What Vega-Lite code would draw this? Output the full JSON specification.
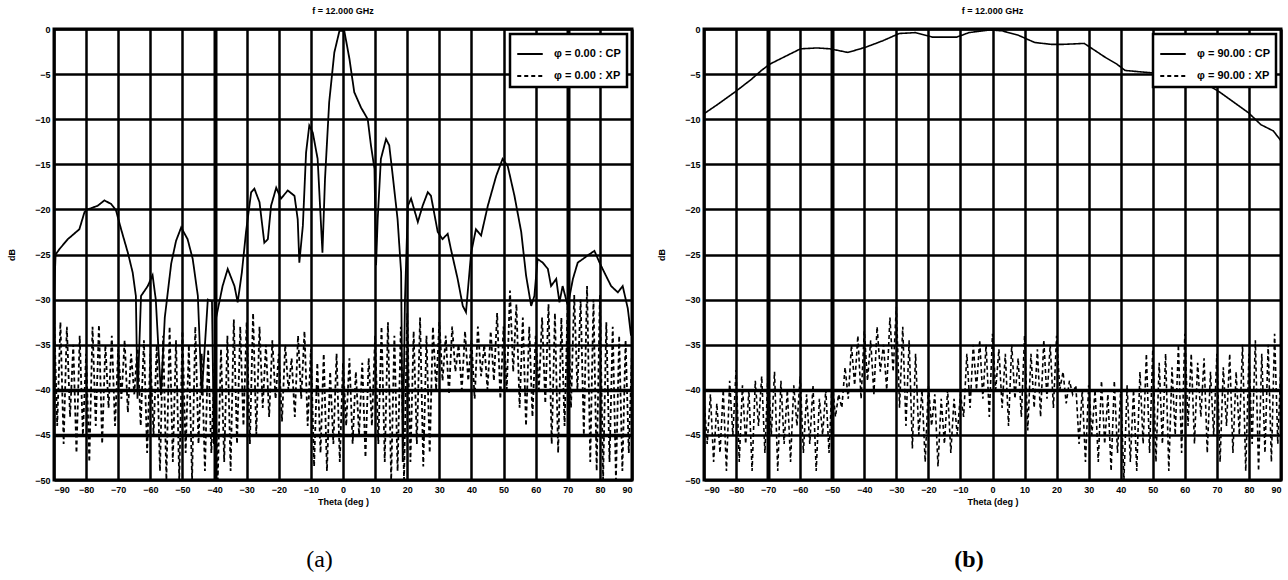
{
  "$schema": "https://vega.github.io/schema/vega-lite/v6.json",
  "background": "white",
  "padding": 5,
  "spacing": 21,
  "datasets": {
    "a": [
      {"s":"CP","t":-90,"v":-29.5},{"s":"CP","t":-89.5,"v":-25},{"s":"CP","t":-88.3,"v":-24.4},{"s":"CP","t":-85.7,"v":-23.3},{"s":"CP","t":-82.1,"v":-22.2},{"s":"CP","t":-80.5,"v":-20.3},{"s":"CP","t":-79.5,"v":-20.0},{"s":"CP","t":-76.4,"v":-19.6},{"s":"CP","t":-74.3,"v":-19.0},{"s":"CP","t":-72.2,"v":-19.4},{"s":"CP","t":-70.7,"v":-20.1},{"s":"CP","t":-69.1,"v":-22.2},{"s":"CP","t":-67.0,"v":-24.8},{"s":"CP","t":-65.5,"v":-27.0},{"s":"CP","t":-64.5,"v":-29.6},{"s":"CP","t":-64,"v":-41},{"s":"CP","t":-62.9,"v":-29.6},{"s":"CP","t":-60.8,"v":-28.5},{"s":"CP","t":-59.3,"v":-27.3},{"s":"CP","t":-58.3,"v":-30},{"s":"CP","t":-56.7,"v":-40.6},{"s":"CP","t":-55.5,"v":-32},{"s":"CP","t":-53.5,"v":-26},{"s":"CP","t":-52,"v":-23.5},{"s":"CP","t":-50.4,"v":-22.0},{"s":"CP","t":-48.4,"v":-23.3},{"s":"CP","t":-46.8,"v":-25.5},{"s":"CP","t":-45.2,"v":-29.6},{"s":"CP","t":-44,"v":-40.6},{"s":"CP","t":-42.1,"v":-30},{"s":"CP","t":-40.8,"v":-30.2},{"s":"CP","t":-40.2,"v":-46},{"s":"CP","t":-39.5,"v":-32},{"s":"CP","t":-37.5,"v":-28.5},{"s":"CP","t":-35.9,"v":-26.6},{"s":"CP","t":-33.8,"v":-28.5},{"s":"CP","t":-32.8,"v":-30.3},{"s":"CP","t":-31.5,"v":-27},{"s":"CP","t":-30.2,"v":-22.5},{"s":"CP","t":-28.6,"v":-18.1},{"s":"CP","t":-27.6,"v":-17.7},{"s":"CP","t":-26.0,"v":-19.2},{"s":"CP","t":-24.5,"v":-23.7},{"s":"CP","t":-23.4,"v":-23.3},{"s":"CP","t":-22.4,"v":-19.6},{"s":"CP","t":-20.8,"v":-17.6},{"s":"CP","t":-19.3,"v":-18.8},{"s":"CP","t":-17.2,"v":-17.9},{"s":"CP","t":-15.1,"v":-18.5},{"s":"CP","t":-14.1,"v":-21.1},{"s":"CP","t":-13.6,"v":-25.9},{"s":"CP","t":-12.5,"v":-21.8},{"s":"CP","t":-11.5,"v":-13.7},{"s":"CP","t":-10.5,"v":-10.7},{"s":"CP","t":-9.4,"v":-11.5},{"s":"CP","t":-7.9,"v":-14.4},{"s":"CP","t":-6.4,"v":-24.8},{"s":"CP","t":-5.6,"v":-16.6},{"s":"CP","t":-4.3,"v":-8.1},{"s":"CP","t":-2.7,"v":-2.6},{"s":"CP","t":-1.1,"v":-0.2},{"s":"CP","t":0.4,"v":-0.2},{"s":"CP","t":2.0,"v":-3.3},{"s":"CP","t":3.5,"v":-7.0},{"s":"CP","t":5.6,"v":-8.7},{"s":"CP","t":7.7,"v":-10.0},{"s":"CP","t":8.7,"v":-12.9},{"s":"CP","t":9.8,"v":-15.5},{"s":"CP","t":10.3,"v":-26.2},{"s":"CP","t":10.8,"v":-21.1},{"s":"CP","t":11.8,"v":-14.4},{"s":"CP","t":13.4,"v":-12.2},{"s":"CP","t":14.4,"v":-12.9},{"s":"CP","t":15.5,"v":-16.3},{"s":"CP","t":17.0,"v":-21.1},{"s":"CP","t":18.1,"v":-27.0},{"s":"CP","t":18.6,"v":-48},{"s":"CP","t":19.3,"v":-30},{"s":"CP","t":20.2,"v":-19.6},{"s":"CP","t":21.2,"v":-18.8},{"s":"CP","t":23.3,"v":-21.4},{"s":"CP","t":24.8,"v":-19.6},{"s":"CP","t":26.4,"v":-18.1},{"s":"CP","t":27.4,"v":-18.5},{"s":"CP","t":29.5,"v":-22.5},{"s":"CP","t":31.0,"v":-23.3},{"s":"CP","t":32.6,"v":-22.7},{"s":"CP","t":33.6,"v":-24.4},{"s":"CP","t":35.7,"v":-27.7},{"s":"CP","t":37.3,"v":-30.7},{"s":"CP","t":38.3,"v":-31.4},{"s":"CP","t":39.9,"v":-24.8},{"s":"CP","t":41.4,"v":-22.2},{"s":"CP","t":43.0,"v":-22.9},{"s":"CP","t":45.1,"v":-19.6},{"s":"CP","t":47.7,"v":-16.3},{"s":"CP","t":49.7,"v":-14.4},{"s":"CP","t":51.3,"v":-15.2},{"s":"CP","t":53.4,"v":-18.5},{"s":"CP","t":55.5,"v":-22.5},{"s":"CP","t":57.0,"v":-27.3},{"s":"CP","t":58.6,"v":-30.7},{"s":"CP","t":59.6,"v":-29.6},{"s":"CP","t":60.6,"v":-25.5},{"s":"CP","t":62.2,"v":-25.9},{"s":"CP","t":63.8,"v":-26.6},{"s":"CP","t":64.8,"v":-28.5},{"s":"CP","t":66.4,"v":-27.7},{"s":"CP","t":67.4,"v":-30.3},{"s":"CP","t":68.4,"v":-28.5},{"s":"CP","t":70.0,"v":-30.7},{"s":"CP","t":71.6,"v":-27.7},{"s":"CP","t":73.1,"v":-25.9},{"s":"CP","t":74.7,"v":-25.5},{"s":"CP","t":76.2,"v":-25.1},{"s":"CP","t":78.3,"v":-24.6},{"s":"CP","t":79.9,"v":-25.9},{"s":"CP","t":81.4,"v":-27.0},{"s":"CP","t":83.5,"v":-28.5},{"s":"CP","t":85.6,"v":-29.2},{"s":"CP","t":87.1,"v":-28.5},{"s":"CP","t":88.7,"v":-31.0},{"s":"CP","t":89.7,"v":-34.0},
      {"s":"XP","t":-90,"v":-31.5},{"s":"XP","t":-89,"v":-44},{"s":"XP","t":-88,"v":-32.5},{"s":"XP","t":-87,"v":-46},{"s":"XP","t":-86,"v":-33},{"s":"XP","t":-85,"v":-43},{"s":"XP","t":-84,"v":-35},{"s":"XP","t":-83,"v":-47},{"s":"XP","t":-82,"v":-34},{"s":"XP","t":-81,"v":-45},{"s":"XP","t":-80,"v":-36},{"s":"XP","t":-79,"v":-48},{"s":"XP","t":-78,"v":-33},{"s":"XP","t":-77,"v":-44},{"s":"XP","t":-76,"v":-32.8},{"s":"XP","t":-75,"v":-46},{"s":"XP","t":-74,"v":-35},{"s":"XP","t":-73,"v":-42},{"s":"XP","t":-72,"v":-34},{"s":"XP","t":-71,"v":-44},{"s":"XP","t":-70,"v":-35.5},{"s":"XP","t":-69,"v":-41},{"s":"XP","t":-68,"v":-34.5},{"s":"XP","t":-67,"v":-42.5},{"s":"XP","t":-66,"v":-36},{"s":"XP","t":-65,"v":-40.5},{"s":"XP","t":-64,"v":-35},{"s":"XP","t":-63,"v":-44},{"s":"XP","t":-62,"v":-34.5},{"s":"XP","t":-61,"v":-47},{"s":"XP","t":-60,"v":-36},{"s":"XP","t":-59,"v":-45},{"s":"XP","t":-58,"v":-35},{"s":"XP","t":-57,"v":-49},{"s":"XP","t":-56,"v":-34},{"s":"XP","t":-55,"v":-50},{"s":"XP","t":-54,"v":-33},{"s":"XP","t":-53,"v":-48},{"s":"XP","t":-52,"v":-34.5},{"s":"XP","t":-51,"v":-50},{"s":"XP","t":-50,"v":-33.5},{"s":"XP","t":-49,"v":-47},{"s":"XP","t":-48,"v":-35},{"s":"XP","t":-47,"v":-50},{"s":"XP","t":-46,"v":-33},{"s":"XP","t":-45,"v":-46},{"s":"XP","t":-44,"v":-36},{"s":"XP","t":-43,"v":-49},{"s":"XP","t":-42,"v":-35.5},{"s":"XP","t":-41,"v":-47},{"s":"XP","t":-40,"v":-37},{"s":"XP","t":-39,"v":-50},{"s":"XP","t":-38,"v":-35.5},{"s":"XP","t":-37,"v":-48},{"s":"XP","t":-36,"v":-34},{"s":"XP","t":-35,"v":-49},{"s":"XP","t":-34,"v":-32.2},{"s":"XP","t":-33,"v":-46},{"s":"XP","t":-32,"v":-33},{"s":"XP","t":-31,"v":-44},{"s":"XP","t":-30,"v":-32.5},{"s":"XP","t":-29,"v":-46},{"s":"XP","t":-28,"v":-31.5},{"s":"XP","t":-27,"v":-45},{"s":"XP","t":-26,"v":-33},{"s":"XP","t":-25,"v":-42},{"s":"XP","t":-24,"v":-35},{"s":"XP","t":-23,"v":-43},{"s":"XP","t":-22,"v":-34.5},{"s":"XP","t":-21,"v":-41},{"s":"XP","t":-20,"v":-36},{"s":"XP","t":-19,"v":-43.5},{"s":"XP","t":-18,"v":-35},{"s":"XP","t":-17,"v":-40},{"s":"XP","t":-16,"v":-36.5},{"s":"XP","t":-15,"v":-43},{"s":"XP","t":-14,"v":-34},{"s":"XP","t":-13,"v":-41},{"s":"XP","t":-12,"v":-33.5},{"s":"XP","t":-11,"v":-44},{"s":"XP","t":-10,"v":-35.5},{"s":"XP","t":-9,"v":-48.5},{"s":"XP","t":-8,"v":-37},{"s":"XP","t":-7,"v":-47},{"s":"XP","t":-6,"v":-36},{"s":"XP","t":-5,"v":-49},{"s":"XP","t":-4,"v":-38},{"s":"XP","t":-3,"v":-46},{"s":"XP","t":-2,"v":-36},{"s":"XP","t":-1,"v":-48},{"s":"XP","t":0,"v":-37},{"s":"XP","t":1,"v":-44},{"s":"XP","t":2,"v":-36.5},{"s":"XP","t":3,"v":-46},{"s":"XP","t":4,"v":-38},{"s":"XP","t":5,"v":-45},{"s":"XP","t":6,"v":-37},{"s":"XP","t":7,"v":-47.5},{"s":"XP","t":8,"v":-36.5},{"s":"XP","t":9,"v":-44},{"s":"XP","t":10,"v":-34},{"s":"XP","t":11,"v":-46},{"s":"XP","t":12,"v":-33},{"s":"XP","t":13,"v":-48},{"s":"XP","t":14,"v":-32.5},{"s":"XP","t":15,"v":-50},{"s":"XP","t":16,"v":-34},{"s":"XP","t":17,"v":-49},{"s":"XP","t":18,"v":-33},{"s":"XP","t":19,"v":-50},{"s":"XP","t":20,"v":-31.5},{"s":"XP","t":21,"v":-48},{"s":"XP","t":22,"v":-33.5},{"s":"XP","t":23,"v":-46},{"s":"XP","t":24,"v":-32},{"s":"XP","t":25,"v":-48.5},{"s":"XP","t":26,"v":-34},{"s":"XP","t":27,"v":-47},{"s":"XP","t":28,"v":-33},{"s":"XP","t":29,"v":-40},{"s":"XP","t":30,"v":-32.5},{"s":"XP","t":31,"v":-39},{"s":"XP","t":32,"v":-34},{"s":"XP","t":33,"v":-40.5},{"s":"XP","t":34,"v":-33},{"s":"XP","t":35,"v":-38},{"s":"XP","t":36,"v":-35},{"s":"XP","t":37,"v":-40},{"s":"XP","t":38,"v":-33.5},{"s":"XP","t":39,"v":-39},{"s":"XP","t":40,"v":-34.5},{"s":"XP","t":41,"v":-41},{"s":"XP","t":42,"v":-33},{"s":"XP","t":43,"v":-38.5},{"s":"XP","t":44,"v":-35},{"s":"XP","t":45,"v":-40},{"s":"XP","t":46,"v":-33.5},{"s":"XP","t":47,"v":-39},{"s":"XP","t":48,"v":-31.5},{"s":"XP","t":49,"v":-41},{"s":"XP","t":50,"v":-33},{"s":"XP","t":51,"v":-40},{"s":"XP","t":52,"v":-29},{"s":"XP","t":53,"v":-38},{"s":"XP","t":54,"v":-30.5},{"s":"XP","t":55,"v":-42},{"s":"XP","t":56,"v":-32},{"s":"XP","t":57,"v":-44},{"s":"XP","t":58,"v":-33},{"s":"XP","t":59,"v":-43},{"s":"XP","t":60,"v":-34},{"s":"XP","t":61,"v":-40},{"s":"XP","t":62,"v":-32},{"s":"XP","t":63,"v":-41.5},{"s":"XP","t":64,"v":-30.5},{"s":"XP","t":65,"v":-46},{"s":"XP","t":66,"v":-31.5},{"s":"XP","t":67,"v":-47},{"s":"XP","t":68,"v":-32},{"s":"XP","t":69,"v":-44},{"s":"XP","t":70,"v":-30},{"s":"XP","t":71,"v":-42},{"s":"XP","t":72,"v":-29.5},{"s":"XP","t":73,"v":-40},{"s":"XP","t":74,"v":-30},{"s":"XP","t":75,"v":-45},{"s":"XP","t":76,"v":-28.5},{"s":"XP","t":77,"v":-48},{"s":"XP","t":78,"v":-30},{"s":"XP","t":79,"v":-49},{"s":"XP","t":80,"v":-29.5},{"s":"XP","t":81,"v":-50},{"s":"XP","t":82,"v":-32.5},{"s":"XP","t":83,"v":-48},{"s":"XP","t":84,"v":-33},{"s":"XP","t":85,"v":-50},{"s":"XP","t":86,"v":-34},{"s":"XP","t":87,"v":-49},{"s":"XP","t":88,"v":-34.5},{"s":"XP","t":89,"v":-47},{"s":"XP","t":90,"v":-35.5}
    ],
    "b": [
      {"s":"CP","t":-90,"v":-9.4},{"s":"CP","t":-85.5,"v":-8.3},{"s":"CP","t":-80.4,"v":-7.0},{"s":"CP","t":-75.3,"v":-5.6},{"s":"CP","t":-72.1,"v":-4.6},{"s":"CP","t":-69.5,"v":-3.9},{"s":"CP","t":-65,"v":-3.1},{"s":"CP","t":-59.9,"v":-2.2},{"s":"CP","t":-54.7,"v":-2.1},{"s":"CP","t":-50.6,"v":-2.2},{"s":"CP","t":-45.1,"v":-2.6},{"s":"CP","t":-39.4,"v":-2.0},{"s":"CP","t":-34.2,"v":-1.3},{"s":"CP","t":-29.1,"v":-0.5},{"s":"CP","t":-24,"v":-0.4},{"s":"CP","t":-18.8,"v":-0.9},{"s":"CP","t":-11.2,"v":-0.9},{"s":"CP","t":-7.3,"v":-0.4},{"s":"CP","t":-0.9,"v":-0.1},{"s":"CP","t":3.0,"v":-0.2},{"s":"CP","t":8.1,"v":-0.7},{"s":"CP","t":13.2,"v":-1.5},{"s":"CP","t":18.3,"v":-1.7},{"s":"CP","t":22.2,"v":-1.7},{"s":"CP","t":28.6,"v":-1.6},{"s":"CP","t":31.2,"v":-2.2},{"s":"CP","t":35,"v":-3.1},{"s":"CP","t":38.8,"v":-3.9},{"s":"CP","t":41.4,"v":-4.6},{"s":"CP","t":47.8,"v":-4.8},{"s":"CP","t":54.2,"v":-5.0},{"s":"CP","t":60.6,"v":-5.4},{"s":"CP","t":65.8,"v":-5.9},{"s":"CP","t":70.9,"v":-7.0},{"s":"CP","t":76,"v":-8.3},{"s":"CP","t":79.9,"v":-9.3},{"s":"CP","t":83.7,"v":-10.6},{"s":"CP","t":87.6,"v":-11.3},{"s":"CP","t":90,"v":-12.4},
      {"s":"XP","t":-90,"v":-41},{"s":"XP","t":-89,"v":-46},{"s":"XP","t":-88,"v":-40.5},{"s":"XP","t":-87,"v":-48},{"s":"XP","t":-86,"v":-41.5},{"s":"XP","t":-85,"v":-47},{"s":"XP","t":-84,"v":-40},{"s":"XP","t":-83,"v":-49},{"s":"XP","t":-82,"v":-39},{"s":"XP","t":-81,"v":-45},{"s":"XP","t":-80,"v":-37.8},{"s":"XP","t":-79,"v":-48},{"s":"XP","t":-78,"v":-39.5},{"s":"XP","t":-77,"v":-46},{"s":"XP","t":-76,"v":-40},{"s":"XP","t":-75,"v":-49},{"s":"XP","t":-74,"v":-39},{"s":"XP","t":-73,"v":-44},{"s":"XP","t":-72,"v":-38.5},{"s":"XP","t":-71,"v":-47},{"s":"XP","t":-70,"v":-37.7},{"s":"XP","t":-69,"v":-45},{"s":"XP","t":-68,"v":-38},{"s":"XP","t":-67,"v":-49},{"s":"XP","t":-66,"v":-39},{"s":"XP","t":-65,"v":-46},{"s":"XP","t":-64,"v":-40},{"s":"XP","t":-63,"v":-48},{"s":"XP","t":-62,"v":-39.5},{"s":"XP","t":-61,"v":-44},{"s":"XP","t":-60,"v":-38.5},{"s":"XP","t":-59,"v":-47},{"s":"XP","t":-58,"v":-40.5},{"s":"XP","t":-57,"v":-46},{"s":"XP","t":-56,"v":-39.5},{"s":"XP","t":-55,"v":-49},{"s":"XP","t":-54,"v":-41},{"s":"XP","t":-53,"v":-45},{"s":"XP","t":-52,"v":-40},{"s":"XP","t":-51,"v":-47},{"s":"XP","t":-50,"v":-39},{"s":"XP","t":-49,"v":-43},{"s":"XP","t":-48,"v":-40.5},{"s":"XP","t":-47,"v":-42},{"s":"XP","t":-46,"v":-37.5},{"s":"XP","t":-45,"v":-41},{"s":"XP","t":-44,"v":-35},{"s":"XP","t":-43,"v":-39.5},{"s":"XP","t":-42,"v":-34},{"s":"XP","t":-41,"v":-41},{"s":"XP","t":-40,"v":-33.5},{"s":"XP","t":-39,"v":-39},{"s":"XP","t":-38,"v":-34.5},{"s":"XP","t":-37,"v":-40.5},{"s":"XP","t":-36,"v":-33},{"s":"XP","t":-35,"v":-38},{"s":"XP","t":-34,"v":-35},{"s":"XP","t":-33,"v":-40},{"s":"XP","t":-32,"v":-32},{"s":"XP","t":-31,"v":-38},{"s":"XP","t":-30,"v":-30.8},{"s":"XP","t":-29,"v":-42},{"s":"XP","t":-28,"v":-33},{"s":"XP","t":-27,"v":-44},{"s":"XP","t":-26,"v":-34.5},{"s":"XP","t":-25,"v":-46.5},{"s":"XP","t":-24,"v":-36},{"s":"XP","t":-23,"v":-45},{"s":"XP","t":-22,"v":-40},{"s":"XP","t":-21,"v":-48},{"s":"XP","t":-20,"v":-39.5},{"s":"XP","t":-19,"v":-44},{"s":"XP","t":-18,"v":-40.5},{"s":"XP","t":-17,"v":-48.5},{"s":"XP","t":-16,"v":-41},{"s":"XP","t":-15,"v":-46},{"s":"XP","t":-14,"v":-40},{"s":"XP","t":-13,"v":-47},{"s":"XP","t":-12,"v":-41},{"s":"XP","t":-11,"v":-45},{"s":"XP","t":-10,"v":-40.5},{"s":"XP","t":-9,"v":-43},{"s":"XP","t":-8,"v":-36},{"s":"XP","t":-7,"v":-42},{"s":"XP","t":-6,"v":-35},{"s":"XP","t":-5,"v":-40},{"s":"XP","t":-4,"v":-34.5},{"s":"XP","t":-3,"v":-41},{"s":"XP","t":-2,"v":-35},{"s":"XP","t":-1,"v":-43},{"s":"XP","t":0,"v":-33.8},{"s":"XP","t":1,"v":-40},{"s":"XP","t":2,"v":-35.5},{"s":"XP","t":3,"v":-42},{"s":"XP","t":4,"v":-36},{"s":"XP","t":5,"v":-44},{"s":"XP","t":6,"v":-35},{"s":"XP","t":7,"v":-41},{"s":"XP","t":8,"v":-36.5},{"s":"XP","t":9,"v":-43},{"s":"XP","t":10,"v":-34},{"s":"XP","t":11,"v":-44.5},{"s":"XP","t":12,"v":-36},{"s":"XP","t":13,"v":-42},{"s":"XP","t":14,"v":-35.5},{"s":"XP","t":15,"v":-43},{"s":"XP","t":16,"v":-34.5},{"s":"XP","t":17,"v":-41},{"s":"XP","t":18,"v":-35},{"s":"XP","t":19,"v":-42},{"s":"XP","t":20,"v":-34},{"s":"XP","t":21,"v":-40},{"s":"XP","t":22,"v":-38},{"s":"XP","t":23,"v":-41.5},{"s":"XP","t":24,"v":-39},{"s":"XP","t":25,"v":-40.5},{"s":"XP","t":26,"v":-39.5},{"s":"XP","t":27,"v":-46},{"s":"XP","t":28,"v":-40},{"s":"XP","t":29,"v":-48},{"s":"XP","t":30,"v":-39.5},{"s":"XP","t":31,"v":-45},{"s":"XP","t":32,"v":-40},{"s":"XP","t":33,"v":-48},{"s":"XP","t":34,"v":-39},{"s":"XP","t":35,"v":-46},{"s":"XP","t":36,"v":-40.5},{"s":"XP","t":37,"v":-49},{"s":"XP","t":38,"v":-39},{"s":"XP","t":39,"v":-47},{"s":"XP","t":40,"v":-40},{"s":"XP","t":41,"v":-50},{"s":"XP","t":42,"v":-39.5},{"s":"XP","t":43,"v":-48},{"s":"XP","t":44,"v":-40},{"s":"XP","t":45,"v":-49},{"s":"XP","t":46,"v":-38},{"s":"XP","t":47,"v":-46},{"s":"XP","t":48,"v":-36},{"s":"XP","t":49,"v":-47},{"s":"XP","t":50,"v":-35.5},{"s":"XP","t":51,"v":-48},{"s":"XP","t":52,"v":-37},{"s":"XP","t":53,"v":-46},{"s":"XP","t":54,"v":-36},{"s":"XP","t":55,"v":-49},{"s":"XP","t":56,"v":-37.5},{"s":"XP","t":57,"v":-45},{"s":"XP","t":58,"v":-35},{"s":"XP","t":59,"v":-47},{"s":"XP","t":60,"v":-33.8},{"s":"XP","t":61,"v":-44},{"s":"XP","t":62,"v":-36},{"s":"XP","t":63,"v":-46},{"s":"XP","t":64,"v":-37},{"s":"XP","t":65,"v":-43},{"s":"XP","t":66,"v":-36.5},{"s":"XP","t":67,"v":-47},{"s":"XP","t":68,"v":-38},{"s":"XP","t":69,"v":-45},{"s":"XP","t":70,"v":-36},{"s":"XP","t":71,"v":-48},{"s":"XP","t":72,"v":-37.5},{"s":"XP","t":73,"v":-44},{"s":"XP","t":74,"v":-36},{"s":"XP","t":75,"v":-47},{"s":"XP","t":76,"v":-38},{"s":"XP","t":77,"v":-45},{"s":"XP","t":78,"v":-35},{"s":"XP","t":79,"v":-49},{"s":"XP","t":80,"v":-36},{"s":"XP","t":81,"v":-46},{"s":"XP","t":82,"v":-34.5},{"s":"XP","t":83,"v":-49},{"s":"XP","t":84,"v":-36},{"s":"XP","t":85,"v":-47},{"s":"XP","t":86,"v":-35},{"s":"XP","t":87,"v":-48},{"s":"XP","t":88,"v":-33.8},{"s":"XP","t":89,"v":-46},{"s":"XP","t":90,"v":-37}
    ]
  },
  "hconcat": [
    {
      "title": {"text": "(a)", "orient": "bottom", "anchor": "middle", "font": "Liberation Serif", "fontSize": 24, "fontWeight": "normal", "color": "black", "offset": 40},
      "resolve": {"scale": {"strokeDash": "independent"}, "legend": {"strokeDash": "independent"}},
      "vconcat": [
        {
          "width": 578,
          "height": 451,
          "title": {"text": "f = 12.000 GHz", "anchor": "middle", "font": "Liberation Sans", "fontSize": 9, "fontWeight": "bold", "color": "black", "offset": 9},
          "data": {"name": "a"},
          "mark": {"type": "line", "color": "black", "strokeWidth": 1.8, "clip": true},
          "encoding": {
            "x": {"field": "t", "type": "quantitative", "scale": {"domain": [-90, 90], "nice": false},
              "axis": {"values": [-90,-80,-70,-60,-50,-40,-30,-20,-10,0,10,20,30,40,50,60,70,80,90], "title": "Theta (deg )", "labelPadding": 5, "titlePadding": 3,
                "gridWidth": {"condition": {"test": "datum.value == -40 || datum.value == 70", "value": 4}, "value": 2.5}}},
            "y": {"field": "v", "type": "quantitative", "scale": {"domain": [-50, 0], "nice": false},
              "axis": {"values": [0,-5,-10,-15,-20,-25,-30,-35,-40,-45,-50], "title": "dB", "labelPadding": 4, "titlePadding": 12, "minExtent": 26, "maxExtent": 26,
                "gridWidth": {"condition": {"test": "datum.value == -40 || datum.value == -45", "value": 3.5}, "value": 2.5}}},
            "strokeDash": {"field": "s", "type": "nominal", "scale": {"domain": ["CP", "XP"], "range": [[1, 0], [4, 3]]},
              "legend": {"orient": "top-right", "offset": 5, "labelExpr": "'φ = 0.00 : ' + datum.label"}}
          }
        }
      ]
    },
    {
      "title": {"text": "(b)", "orient": "bottom", "anchor": "middle", "font": "Liberation Serif", "fontSize": 24, "fontWeight": "bold", "color": "black", "offset": 40},
      "resolve": {"scale": {"strokeDash": "independent"}, "legend": {"strokeDash": "independent"}},
      "vconcat": [
        {
          "width": 577,
          "height": 451,
          "title": {"text": "f = 12.000 GHz", "anchor": "middle", "font": "Liberation Sans", "fontSize": 9, "fontWeight": "bold", "color": "black", "offset": 9},
          "data": {"name": "b"},
          "mark": {"type": "line", "color": "black", "strokeWidth": 1.6, "clip": true},
          "encoding": {
            "x": {"field": "t", "type": "quantitative", "scale": {"domain": [-90, 90], "nice": false},
              "axis": {"values": [-90,-80,-70,-60,-50,-40,-30,-20,-10,0,10,20,30,40,50,60,70,80,90], "title": "Theta (deg )", "labelPadding": 5, "titlePadding": 3,
                "gridWidth": {"condition": {"test": "datum.value == -70 || datum.value == -50", "value": 4}, "value": 2.5}}},
            "y": {"field": "v", "type": "quantitative", "scale": {"domain": [-50, 0], "nice": false},
              "axis": {"values": [0,-5,-10,-15,-20,-25,-30,-35,-40,-45,-50], "title": "dB", "labelPadding": 4, "titlePadding": 12, "minExtent": 26, "maxExtent": 26,
                "gridWidth": {"condition": {"test": "datum.value == -40", "value": 3.5}, "value": 2.5}}},
            "strokeDash": {"field": "s", "type": "nominal", "scale": {"domain": ["CP", "XP"], "range": [[1, 0], [4, 3]]},
              "legend": {"orient": "top-right", "offset": 5, "labelExpr": "'φ = 90.00 : ' + datum.label"}}
          }
        }
      ]
    }
  ],
  "resolve": {"scale": {"strokeDash": "independent"}, "legend": {"strokeDash": "independent"}},
  "config": {
    "view": {"stroke": "black", "strokeWidth": 3},
    "axis": {
      "grid": true, "gridColor": "black", "gridOpacity": 1, "domain": false, "ticks": false,
      "labelFont": "Liberation Sans", "labelFontWeight": "bold", "labelFontSize": 9, "labelColor": "black",
      "titleFont": "Liberation Sans", "titleFontWeight": "bold", "titleFontSize": 9, "titleColor": "black"
    },
    "legend": {
      "title": null, "symbolType": "stroke", "symbolStrokeColor": "black", "symbolStrokeWidth": 2, "symbolSize": 650,
      "labelFont": "Liberation Sans", "labelFontWeight": "bold", "labelFontSize": 11, "labelColor": "black",
      "strokeColor": "black", "strokeWidth": 2.5, "fillColor": "white", "padding": 6, "rowPadding": 3, "labelOffset": 10
    }
  }
}
